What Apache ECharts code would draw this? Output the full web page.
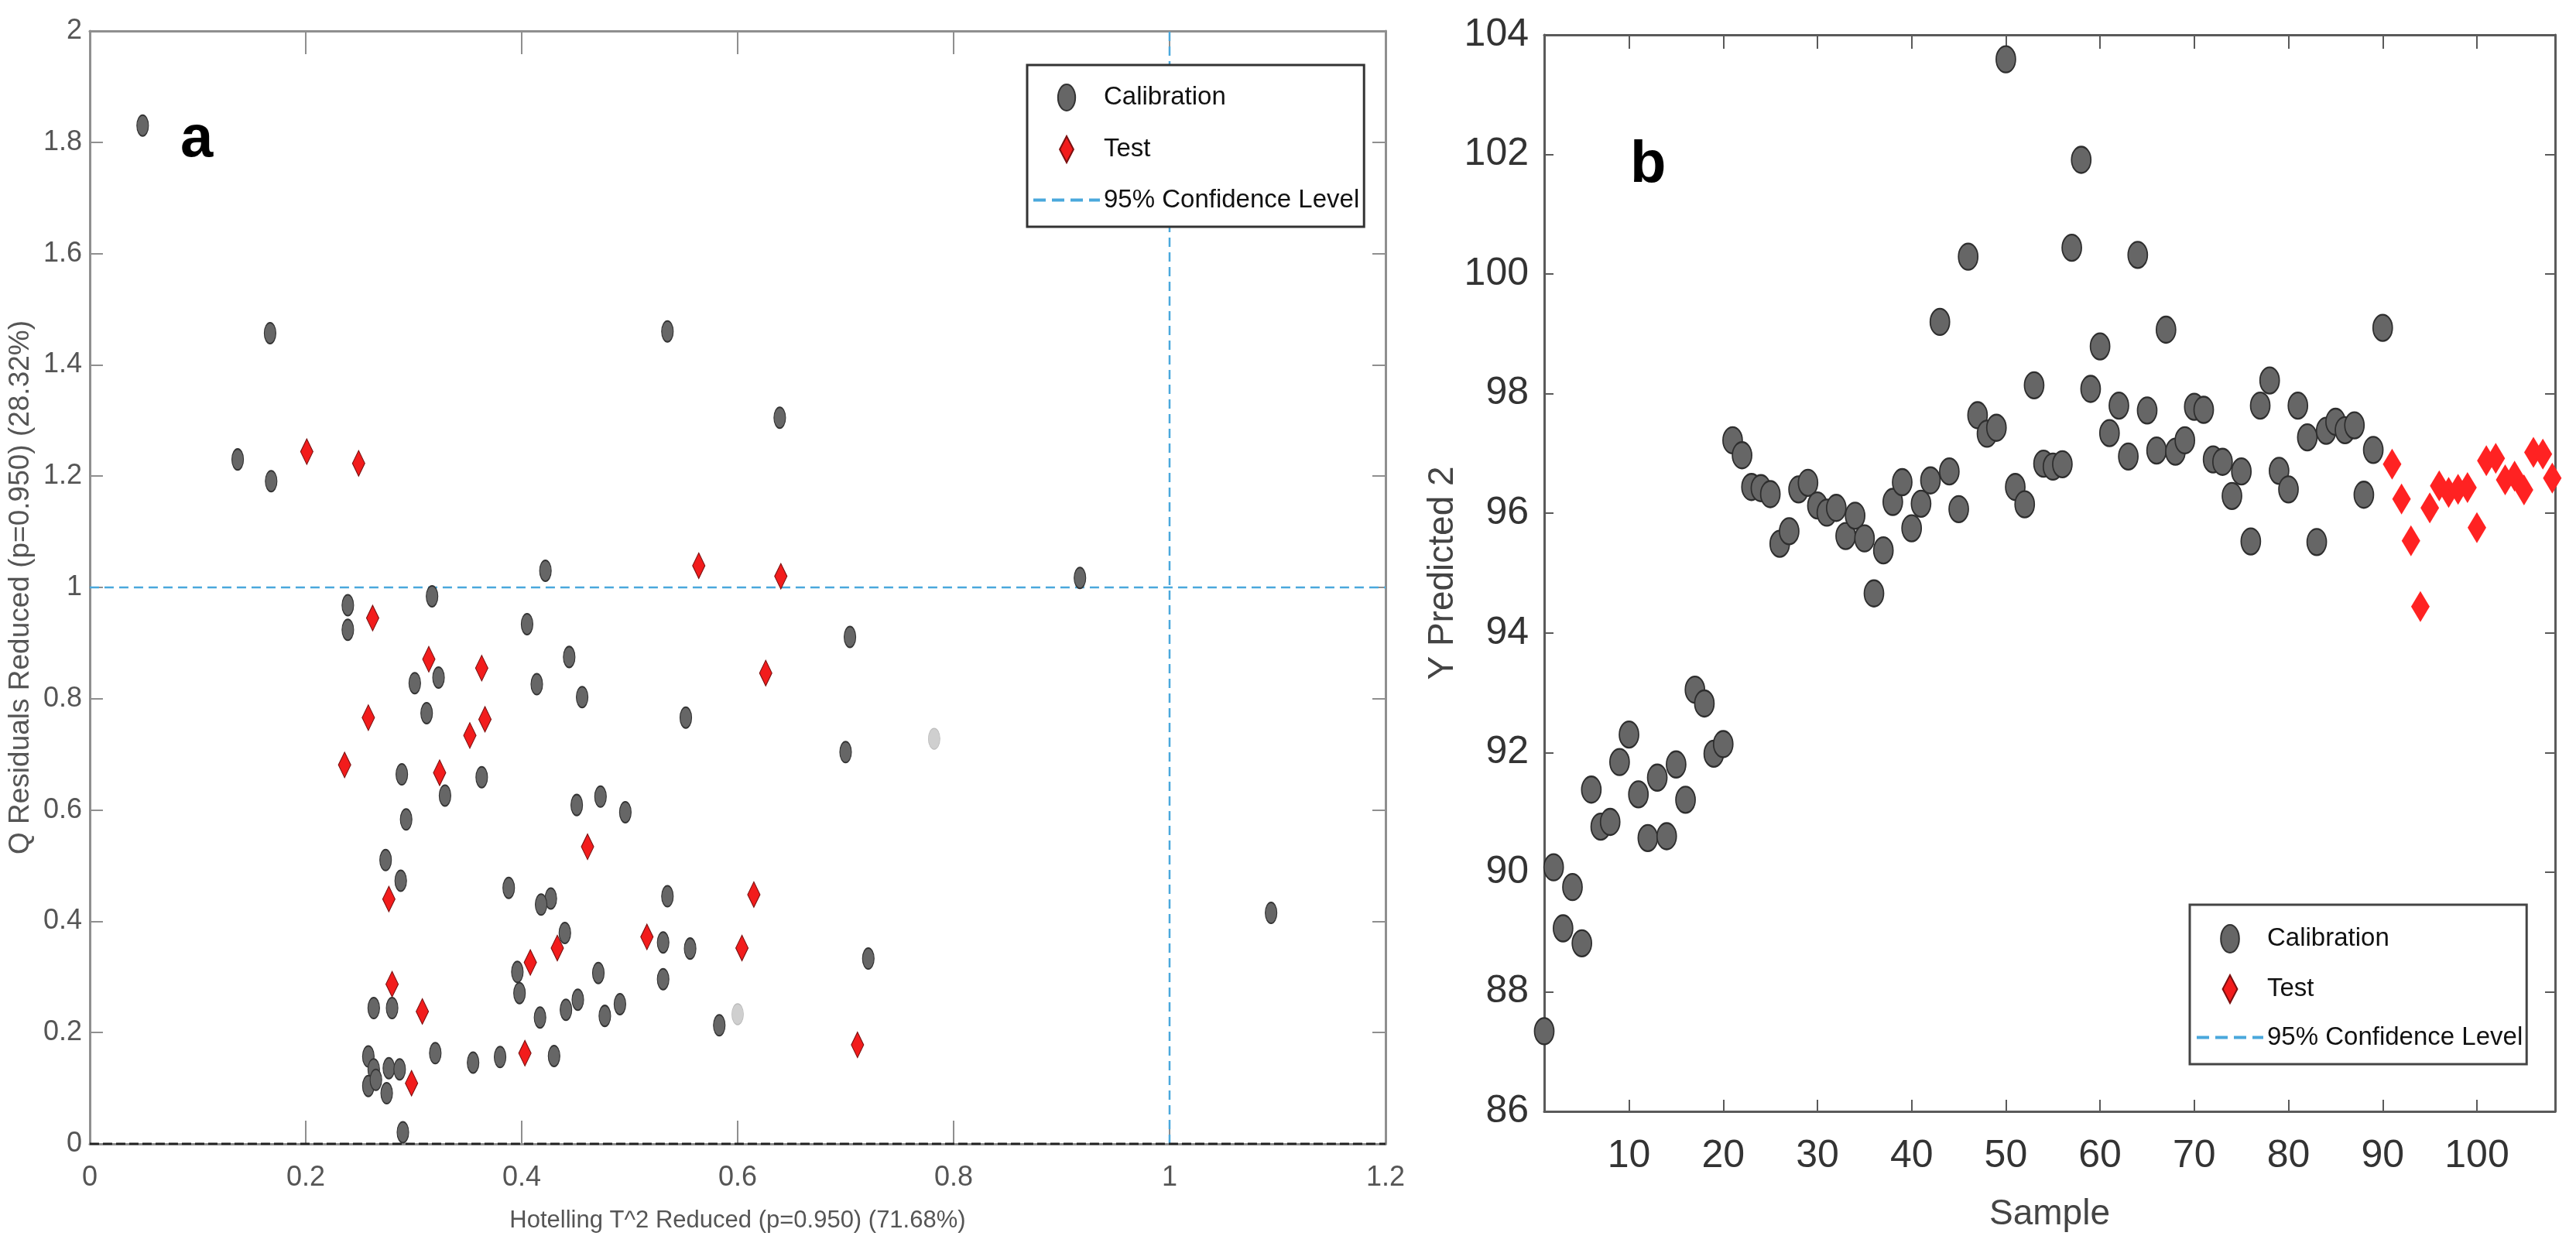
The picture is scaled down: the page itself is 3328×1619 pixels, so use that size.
<!DOCTYPE html>
<html>
<head>
<meta charset="utf-8">
<script src="https://cdn.jsdelivr.net/npm/echarts@6/dist/echarts.min.js"></script>
<style>html,body{margin:0;padding:0;background:#fff;}#c{width:3328px;height:1619px;}</style>
</head>
<body>
<div id="c"></div>
<script>
// ---------- Panel a: Q residuals vs Hotelling T^2 ----------
const calibrationA = [
  [0.049,1.830],[0.167,1.457],[0.137,1.230],[0.168,1.191],[0.535,1.460],[0.639,1.305],[0.422,1.030],[0.917,1.017],
  [0.239,0.968],[0.239,0.924],[0.317,0.984],[0.405,0.934],[0.444,0.875],[0.301,0.828],[0.323,0.838],[0.414,0.826],
  [0.456,0.803],[0.312,0.774],[0.552,0.766],[0.704,0.911],[0.700,0.704],[0.289,0.664],[0.363,0.659],[0.329,0.626],
  [0.293,0.583],[0.451,0.609],[0.473,0.624],[0.496,0.596],[0.274,0.510],[0.288,0.473],[0.388,0.460],[0.427,0.441],
  [0.418,0.430],[0.535,0.445],[0.440,0.379],[0.531,0.362],[0.556,0.351],[0.721,0.333],[1.094,0.415],[0.396,0.309],
  [0.471,0.307],[0.398,0.271],[0.531,0.296],[0.452,0.259],[0.441,0.241],[0.491,0.251],[0.477,0.230],[0.417,0.227],
  [0.583,0.213],[0.263,0.244],[0.280,0.244],[0.320,0.163],[0.355,0.146],[0.380,0.156],[0.430,0.158],[0.258,0.157],
  [0.263,0.134],[0.258,0.104],[0.277,0.136],[0.287,0.134],[0.275,0.091],[0.290,0.021],[0.265,0.115]
];
const testA = [
  [0.201,1.244],[0.249,1.223],[0.564,1.039],[0.640,1.020],[0.262,0.945],[0.314,0.871],[0.363,0.855],[0.626,0.846],
  [0.258,0.766],[0.352,0.734],[0.366,0.763],[0.236,0.681],[0.324,0.667],[0.461,0.534],[0.615,0.448],[0.277,0.440],
  [0.516,0.372],[0.408,0.326],[0.433,0.352],[0.604,0.352],[0.280,0.287],[0.308,0.238],[0.403,0.163],[0.298,0.109],
  [0.711,0.178]
];
const testAGrey = [[0.782,0.728],[0.600,0.233]];
const qLimit = 1;      // 95% confidence level on Q
const t2Limit = 1;     // 95% confidence level on T^2
const xRangeA = [0, 1.2];
const yRangeA = [0, 2];

// ---------- Panel b: Y predicted vs sample ----------
const calibrationB = [
  87.34,90.08,89.06,89.75,88.81,91.38,90.76,90.84,91.84,92.30,
  91.30,90.57,91.58,90.60,91.80,91.21,93.05,92.82,91.98,92.14,
  97.22,96.97,96.44,96.42,96.32,95.49,95.70,96.40,96.51,96.13,
  96.01,96.09,95.62,95.96,95.58,94.66,95.38,96.19,96.52,95.75,
  96.16,96.55,99.20,96.70,96.07,100.29,97.64,97.33,97.43,103.59,
  96.44,96.15,98.14,96.83,96.78,96.82,100.44,101.91,98.08,98.79,
  97.34,97.80,96.95,100.32,97.72,97.05,99.07,97.03,97.22,97.78,
  97.73,96.90,96.86,96.29,96.70,95.53,97.80,98.22,96.71,96.40,
  97.80,97.27,95.52,97.38,97.53,97.39,97.47,96.31,97.06,99.10
];
const testB = [
  96.82,96.24,95.54,94.44,96.09,96.46,96.35,96.40,96.43,95.76,
  96.88,96.92,96.56,96.62,96.39,97.02,96.99,96.59
];
const sampleTicks = [10,20,30,40,50,60,70,80,90,100];

// ---------- build ----------
const FN = "'Liberation Sans Narrow','Arial Narrow','Liberation Sans',Arial,sans-serif";
const FR = "'Liberation Sans',Arial,sans-serif";
const calB = calibrationB.map((v,i)=>[i+1, v]);
const tstB = testB.map((v,i)=>[calibrationB.length+i+1, v]);

const ellipseIcon = 'path://M0,16 A10.5,16 0 1,0 21,16 A10.5,16 0 1,0 0,16 Z';
const diamondIcon = 'path://M11,0 L22,21 L11,42 L0,21 Z';
const dashIcon = 'path://M0,0h16v4H0z M24,0h16v4H24z M48,0h16v4H48z M72,0h14v4H72z';

function frameAxis(extra){
  return Object.assign({type:'value', splitLine:{show:false}, axisLabel:{show:false},
    axisLine:{show:true, onZero:false}}, extra);
}

const greyA = '#8f8f8f', greyB = '#5a5a5a';

const option = {
  backgroundColor:'#fff',
  animation:false,
  grid:[
    {left:96, top:40, width:1694, height:1438},
    {left:1995, top:45, width:1306, height:1391}
  ],
  xAxis:[
    frameAxis({gridIndex:0, position:'bottom', min:xRangeA[0], max:xRangeA[1], interval:0.2,
      axisLine:{show:true,onZero:false,lineStyle:{color:greyA,width:3}},
      axisTick:{inside:true,length:30,lineStyle:{color:greyA,width:2}},
      axisLabel:{show:true, margin:26, fontSize:36, fontFamily:FN, color:'#555'},
      name:'Hotelling T^2 Reduced (p=0.950) (71.68%)', nameLocation:'middle', nameGap:84,
      nameTextStyle:{fontSize:31, fontFamily:FN, color:'#555'}}),
    frameAxis({gridIndex:0, position:'top', min:xRangeA[0], max:xRangeA[1], interval:0.2,
      axisLine:{show:true,onZero:false,lineStyle:{color:greyA,width:3}},
      axisTick:{inside:true,length:30,lineStyle:{color:greyA,width:2}}}),
    frameAxis({gridIndex:1, position:'bottom', min:1, max:108.3,
      axisLine:{show:true,onZero:false,lineStyle:{color:greyB,width:3}},
      axisTick:{inside:true,length:15,customValues:sampleTicks,lineStyle:{color:greyB,width:2}},
      axisLabel:{show:true, customValues:sampleTicks, margin:33, fontSize:50, fontFamily:FN, color:'#333'},
      name:'Sample', nameLocation:'middle', nameGap:110,
      nameTextStyle:{fontSize:46, fontFamily:FN, color:'#444'}}),
    frameAxis({gridIndex:1, position:'top', min:1, max:108.3,
      axisLine:{show:true,onZero:false,lineStyle:{color:greyB,width:3}},
      axisTick:{inside:true,length:18,customValues:sampleTicks,lineStyle:{color:greyB,width:2}}})
  ],
  yAxis:[
    frameAxis({gridIndex:0, position:'left', min:yRangeA[0], max:yRangeA[1], interval:0.2,
      axisLine:{show:true,onZero:false,lineStyle:{color:greyA,width:3}},
      axisTick:{inside:true,length:17,lineStyle:{color:greyA,width:2}},
      axisLabel:{show:true, margin:10, fontSize:36, fontFamily:FN, color:'#555'},
      name:'Q Residuals Reduced (p=0.950) (28.32%)', nameLocation:'middle', nameGap:33, nameRotate:90,
      nameTextStyle:{fontSize:37, fontFamily:FR, color:'#555'}}),
    frameAxis({gridIndex:0, position:'right', min:yRangeA[0], max:yRangeA[1], interval:0.2,
      axisLine:{show:true,onZero:false,lineStyle:{color:greyA,width:3}},
      axisTick:{inside:true,length:17,lineStyle:{color:greyA,width:2}}}),
    frameAxis({gridIndex:1, position:'left', min:86, max:104, interval:2,
      axisLine:{show:true,onZero:false,lineStyle:{color:greyB,width:3}},
      axisTick:{inside:true,length:12,lineStyle:{color:greyB,width:2}},
      axisLabel:{show:true, margin:20, fontSize:50, fontFamily:FN, color:'#333'},
      name:'Y Predicted 2', nameLocation:'middle', nameGap:100, nameRotate:90,
      nameTextStyle:{fontSize:46, fontFamily:FR, color:'#444'}}),
    frameAxis({gridIndex:1, position:'right', min:86, max:104, interval:2,
      axisLine:{show:true,onZero:false,lineStyle:{color:greyB,width:3}},
      axisTick:{inside:true,length:13,lineStyle:{color:greyB,width:2}}})
  ],
  legend:[
    {left:1327, top:84, orient:'vertical', selectedMode:false,
     padding:[24,6,18,8], itemWidth:86, itemHeight:34, itemGap:31,
     backgroundColor:'#fff', borderColor:'#333', borderWidth:3, borderRadius:0,
     textStyle:{fontSize:33, fontFamily:FN, color:'#111'},
     data:[{name:'Calibration', icon:ellipseIcon},{name:'Test', icon:diamondIcon},
           {name:'95% Confidence Level', icon:dashIcon, itemStyle:{color:'#4aa8dc', borderWidth:0}}]},
    {left:2829, top:1169, orient:'vertical', selectedMode:false,
     padding:[25,5,18,9], itemWidth:86, itemHeight:36, itemGap:27,
     backgroundColor:'#fff', borderColor:'#444', borderWidth:3, borderRadius:0,
     textStyle:{fontSize:33, fontFamily:FN, color:'#111'},
     data:[{name:'Calibration', icon:ellipseIcon},{name:'Test', icon:diamondIcon},
           {name:'95% Confidence Level', icon:dashIcon, itemStyle:{color:'#4aa8dc', borderWidth:0}}]}
  ],
  graphic:[
    {type:'text', left:233, top:143, z:100, style:{text:'a', font:"bold 76px "+FN, fill:'#000'}},
    {type:'text', left:2106, top:176, z:100, style:{text:'b', font:"bold 76px "+FN, fill:'#000'}}
  ],
  series:[
    {name:'Q = 0', type:'line', xAxisIndex:0, yAxisIndex:0, symbol:'none', silent:true, z:3,
     data:[[xRangeA[0],0],[xRangeA[1],0]], lineStyle:{color:'#222', width:3, type:[12,5]}},
    {name:'95% Confidence Level', type:'line', xAxisIndex:0, yAxisIndex:0, symbol:'none', silent:true, z:1,
     data:[[xRangeA[0],qLimit],[xRangeA[1],qLimit]], lineStyle:{color:'#4aa8dc', width:2.5, type:[12,7]},
     itemStyle:{color:'#4aa8dc'}},
    {name:'95% Confidence Level', type:'line', xAxisIndex:0, yAxisIndex:0, symbol:'none', silent:true, z:1,
     data:[[t2Limit,yRangeA[0]],[t2Limit,yRangeA[1]]], lineStyle:{color:'#4aa8dc', width:2.5, type:[12,7]},
     itemStyle:{color:'#4aa8dc'}},
    {name:'Calibration', type:'scatter', xAxisIndex:0, yAxisIndex:0, symbol:'circle', symbolSize:[15,27], z:5,
     itemStyle:{color:'#666', borderColor:'#333', borderWidth:1.5, opacity:1}, data:calibrationA},
    {name:'Test', type:'scatter', xAxisIndex:0, yAxisIndex:0, symbol:'diamond', symbolSize:[16,33], z:6,
     itemStyle:{color:'#f21c1c', borderColor:'#7a1010', borderWidth:1.2, opacity:1}, data:testA},
    {name:'Test (excluded)', type:'scatter', xAxisIndex:0, yAxisIndex:0, symbol:'circle', symbolSize:[15,27], z:6,
     itemStyle:{color:'#cfcfcf', borderColor:'#bbb', borderWidth:1, opacity:1}, data:testAGrey},
    {name:'Calibration', type:'scatter', xAxisIndex:2, yAxisIndex:2, symbol:'circle', symbolSize:[25,34], z:5,
     itemStyle:{color:'#666', borderColor:'#2e2e2e', borderWidth:2, opacity:1}, data:calB},
    {name:'Test', type:'scatter', xAxisIndex:2, yAxisIndex:2, symbol:'diamond', symbolSize:[24,40], z:6,
     itemStyle:{color:'#ff2222', borderColor:'#ff2222', borderWidth:0, opacity:1}, data:tstB}
  ]
};
const chart = echarts.init(document.getElementById('c'), null, {renderer:'canvas'});
chart.setOption(option);
</script>
</body>
</html>
